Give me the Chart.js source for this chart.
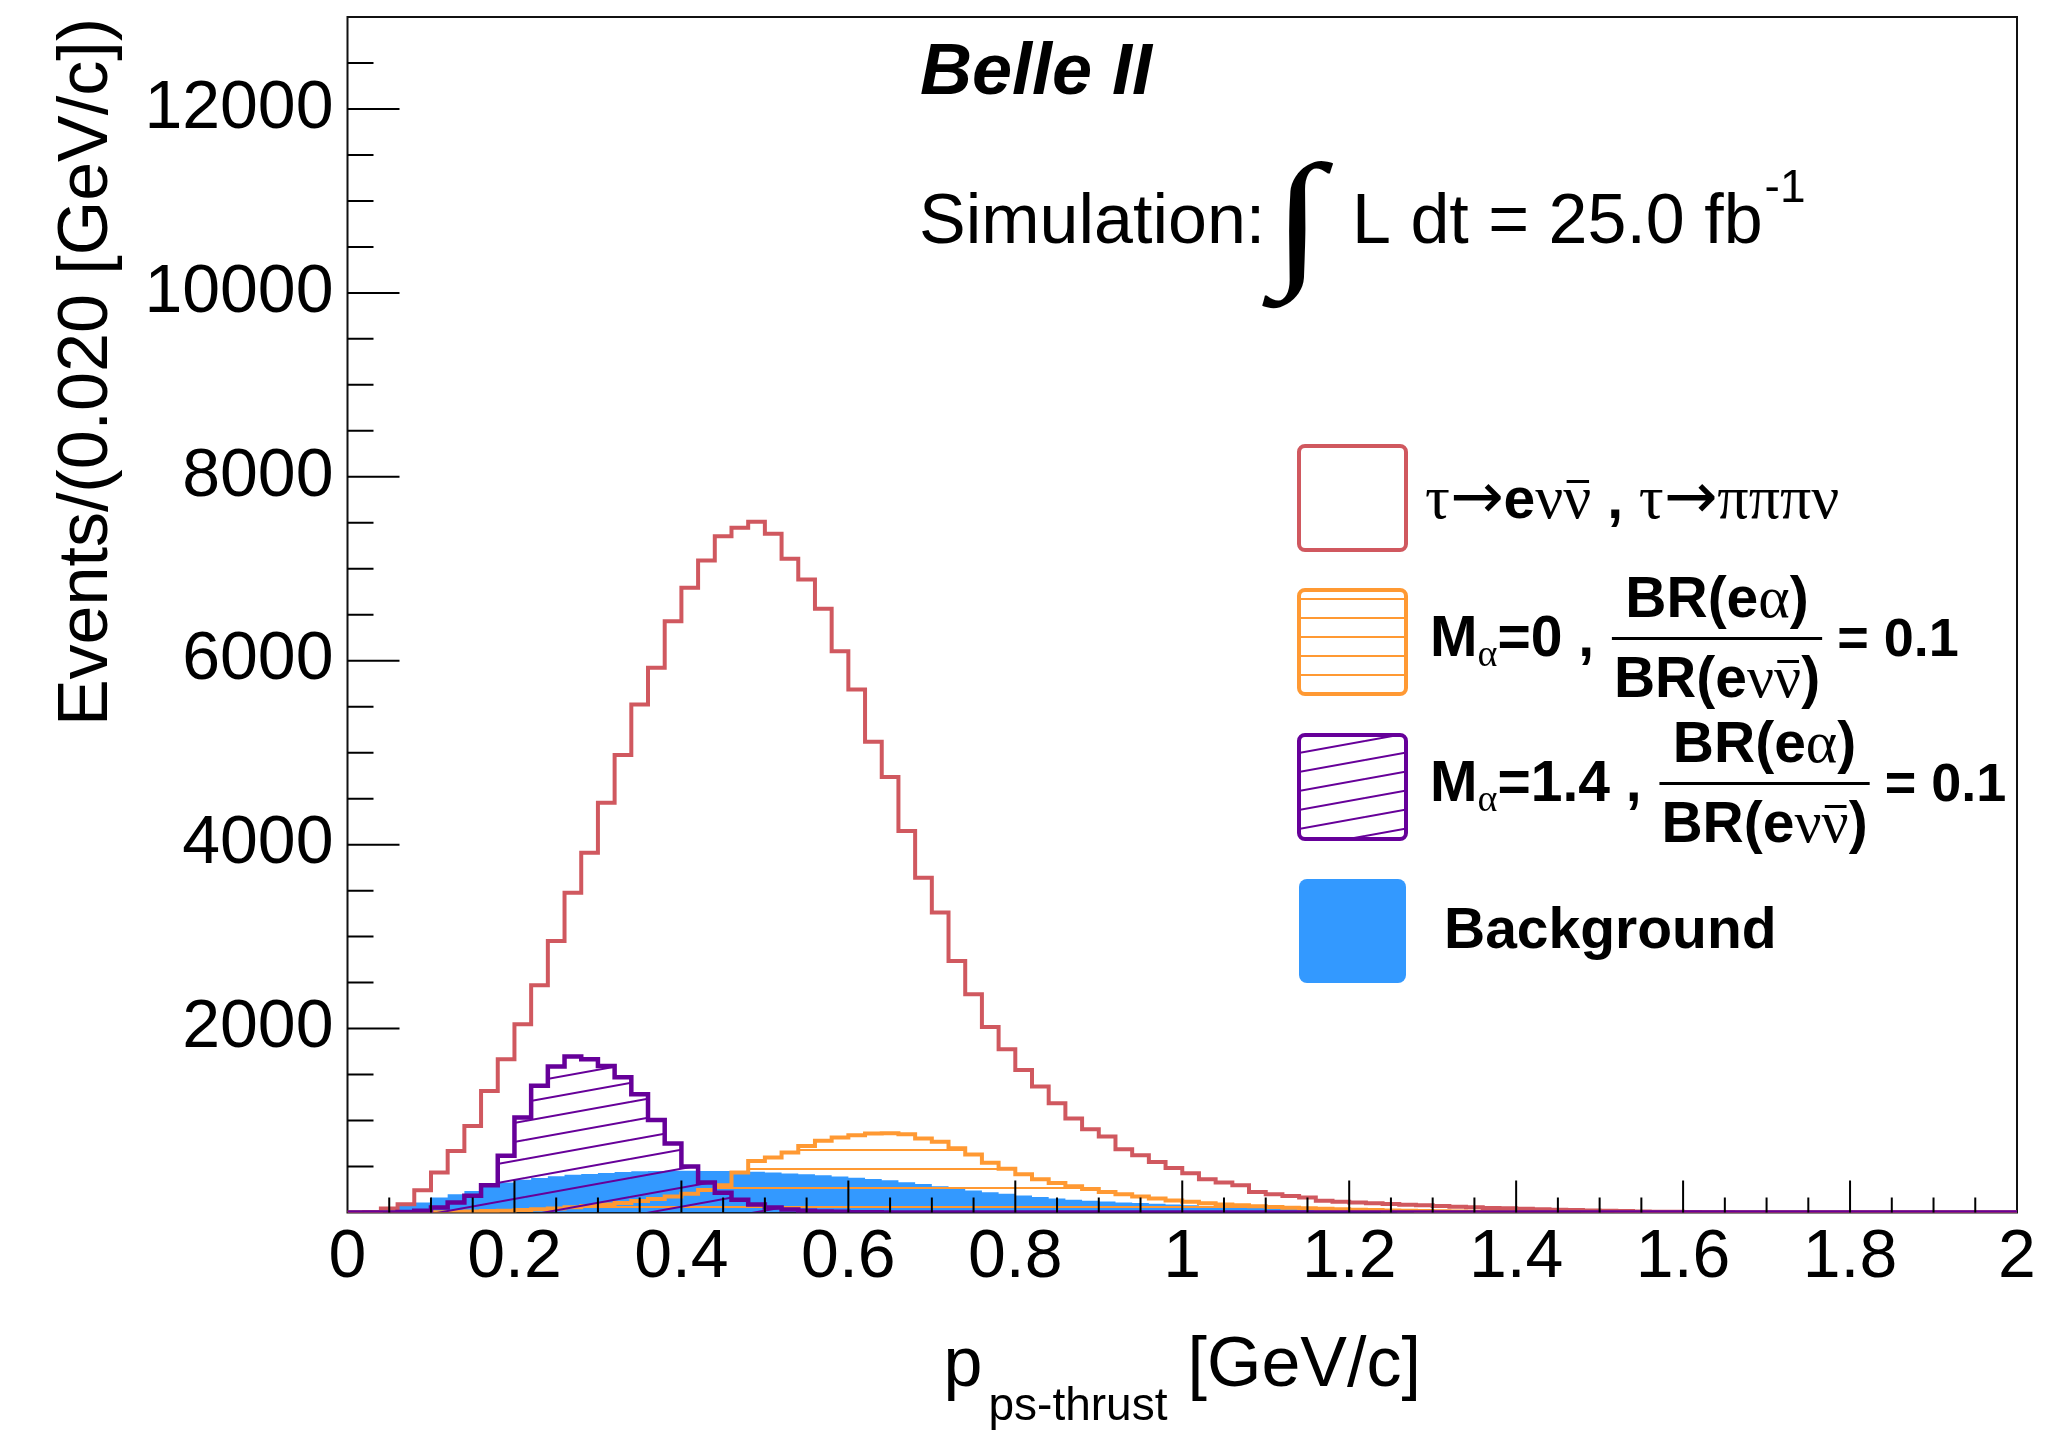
<!DOCTYPE html>
<html>
<head>
<meta charset="utf-8">
<title>p ps-thrust</title>
<script src="https://cdn.jsdelivr.net/npm/chart.js@4.4.1/dist/chart.umd.min.js"></script>
<style>
  html, body { margin: 0; padding: 0; background: #fff; }
  #wrap { width: 2054px; height: 1436px; }
</style>
</head>
<body>
<div id="wrap"><canvas id="hist" width="2054" height="1436"></canvas></div>
<script>
// bins of 0.020 GeV/c from 0 to 2 (100 bins), events per bin
const BIN_WIDTH = 0.02
const yTickValues = [2000, 4000, 6000, 8000, 10000, 12000]

// tau -> e nu nubar , tau -> pi pi pi nu
const sigSM = [
  0, 5, 43, 90, 242, 435, 670, 941, 1322, 1666,
  2047, 2470, 2952, 3478, 3913, 4457, 4975, 5525, 5924, 6430,
  6793, 7090, 7354, 7446, 7511, 7380, 7109, 6884, 6565, 6104,
  5688, 5120, 4737, 4148, 3641, 3261, 2735, 2373, 2018, 1775,
  1550, 1370, 1188, 1022, 905, 826, 688, 623, 550, 485,
  427, 362, 326, 297, 224, 199, 180, 163, 127, 116,
  109, 101, 92, 85, 78, 70, 63, 57, 50, 45,
  40, 35, 30, 26, 22, 18, 15, 12, 9, 7,
  5, 3, 2, 1, 0, 0, 0, 0, 0, 0,
  0, 0, 0, 0, 0, 0, 0, 0, 0, 0
]

// M_alpha = 0
const sigMa0 = [
  0, 0, 0, 0, 0, 2, 5, 10, 15, 20,
  26, 34, 44, 56, 70, 86, 104, 125, 148, 175,
  205, 245, 295, 435, 561, 598, 652, 724, 779, 815,
  840, 860, 862, 851, 804, 770, 700, 630, 540, 475,
  416, 362, 322, 285, 255, 224, 199, 174, 152, 130,
  116, 100, 88, 78, 68, 60, 52, 45, 40, 35,
  30, 26, 22, 19, 16, 13, 11, 9, 7, 6,
  5, 4, 3, 2, 2, 1, 0, 0, 0, 0,
  0, 0, 0, 0, 0, 0, 0, 0, 0, 0,
  0, 0, 0, 0, 0, 0, 0, 0, 0, 0
]

// M_alpha = 1.4
const sigMa14 = [
  0, 0, 0, 5, 20, 54, 109, 181, 295, 616,
  1033, 1377, 1587, 1696, 1667, 1594, 1470, 1286, 1005, 750,
  500, 326, 215, 140, 88, 54, 32, 20, 12, 7,
  4, 2, 1, 0, 0, 0, 0, 0, 0, 0,
  0, 0, 0, 0, 0, 0, 0, 0, 0, 0,
  0, 0, 0, 0, 0, 0, 0, 0, 0, 0,
  0, 0, 0, 0, 0, 0, 0, 0, 0, 0,
  0, 0, 0, 0, 0, 0, 0, 0, 0, 0,
  0, 0, 0, 0, 0, 0, 0, 0, 0, 0,
  0, 0, 0, 0, 0, 0, 0, 0, 0, 0
]

// background
const bkg = [
  0, 10, 30, 72, 109, 163, 199, 235, 290, 326,
  355, 375, 395, 410, 420, 430, 440, 448, 452, 455,
  454, 452, 450, 447, 442, 435, 425, 416, 405, 392,
  378, 365, 352, 330, 310, 285, 260, 240, 220, 203,
  185, 168, 153, 140, 129, 119, 110, 102, 95, 88,
  80, 72, 65, 58, 51, 44, 38, 32, 27, 22,
  18, 14, 11, 8, 6, 4, 3, 2, 1, 0,
  0, 0, 0, 0, 0, 0, 0, 0, 0, 0,
  0, 0, 0, 0, 0, 0, 0, 0, 0, 0,
  0, 0, 0, 0, 0, 0, 0, 0, 0, 0
]

const RED = '#d0585f'
const ORANGE = '#ff9933'
const PURPLE = '#660099'
const BLUE = '#3399ff'
const SANS = '"Liberation Sans", Arial, sans-serif'
const SERIF = '"Liberation Serif", "DejaVu Serif", serif'

// histogram -> points at lower bin edges, closed at x = 2
function steps (values) {
  const pts = values.map((v, i) => ({ x: +(i * BIN_WIDTH).toFixed(2), y: v }))
  pts.push({ x: 2, y: values[values.length - 1] })
  return pts
}

// ROOT-like hatch fills (size first: resizing a canvas resets its context)
function hatch (color, kind) {
  const c = document.createElement('canvas')
  if (kind === 'h') { c.width = 8; c.height = 19 } else { c.width = 105; c.height = 19 }
  const g = c.getContext('2d')
  g.strokeStyle = color
  g.lineWidth = 2
  g.beginPath()
  if (kind === 'h') {
    g.moveTo(0, 10); g.lineTo(8, 10)
  } else {
    for (const k of [-1, 0, 1]) {
      g.moveTo(0, 19 + k * 19); g.lineTo(105, k * 19)
    }
  }
  g.stroke()
  return g.createPattern(c, 'repeat')
}

const orangeFill = hatch(ORANGE, 'h')
const purpleFill = hatch(PURPLE, 'd')

const font = (size, weight = '', style = '', fam = SANS) => `${style} ${weight} ${size}px ${fam}`.trim()

// draw a row of text pieces, returns end x
function drawRuns (ctx, x, y, runs, measureOnly) {
  for (const r of runs) {
    ctx.font = r.f
    const w = ctx.measureText(r.t).width
    if (!measureOnly) {
      ctx.fillText(r.t, x, y + (r.dy || 0))
      if (r.bar) ctx.fillRect(x + w * 0.12, y + (r.dy || 0) - r.bar, w * 0.8, 3)
    }
    x += w + (r.sp || 0)
  }
  return x
}

function fraction (ctx, x, y, num, den) {
  const wN = drawRuns(ctx, 0, 0, num, true)
  const wD = drawRuns(ctx, 0, 0, den, true)
  const W = Math.max(wN, wD) + 4
  drawRuns(ctx, x + (W - wN) / 2, y - 39, num)
  drawRuns(ctx, x + (W - wD) / 2, y + 41, den)
  ctx.fillRect(x, y - 19, W, 3)
  return x + W
}

const framePlugin = {
  id: 'frame',
  beforeDatasetsDraw (chart) {
    const { ctx, chartArea: a } = chart
    ctx.save()
    ctx.strokeStyle = '#111'
    ctx.lineWidth = 2
    ctx.strokeRect(a.left, a.top, a.right - a.left, a.bottom - a.top)
    ctx.restore()
  },
  afterDatasetsDraw (chart) {
    // ticks point into the frame, like ROOT
    const { ctx, chartArea: a, scales: { x, y } } = chart
    ctx.save()
    ctx.strokeStyle = '#000'
    ctx.lineWidth = 2
    ctx.beginPath()
    for (let v = 500; v < 13000; v += 500) {
      const p = y.getPixelForValue(v)
      ctx.moveTo(a.left, p)
      ctx.lineTo(a.left + (v % 2000 === 0 ? 52 : 26), p)
    }
    for (let k = 1; k < 40; k++) {
      const p = x.getPixelForValue(k * 0.05)
      ctx.moveTo(p, a.bottom)
      ctx.lineTo(p, a.bottom - (k % 4 === 0 ? 32 : 15))
    }
    ctx.stroke()
    ctx.restore()
  }
}

const textPlugin = {
  id: 'texts',
  afterDraw (chart) {
    const ctx = chart.ctx
    ctx.save()
    ctx.fillStyle = '#000'
    ctx.textBaseline = 'alphabetic'
    ctx.textAlign = 'left'

    ctx.font = font(72, 'bold', 'italic')
    ctx.fillText('Belle II', 920, 94)

    ctx.font = font(70)
    ctx.fillText('Simulation:', 919, 243)
    ctx.save()
    ctx.font = font(150, 'bold', '', SERIF)
    ctx.translate(1272, 268)
    ctx.scale(1.25, 1)
    ctx.fillText('∫', 0, 0)
    ctx.restore()
    const xe = drawRuns(ctx, 1352, 243, [{ t: 'L dt = 25.0 fb', f: font(70) }])
    drawRuns(ctx, xe + 2, 202, [{ t: '-1', f: font(46) }])

    // axis titles
    const xt = [{ t: 'p', f: font(70) }]
    const sub = [{ t: 'ps-thrust', f: font(46) }]
    const unit = [{ t: '[GeV/c]', f: font(70) }]
    const total = drawRuns(ctx, 0, 0, xt, true) + 6 + drawRuns(ctx, 0, 0, sub, true) + 20 + drawRuns(ctx, 0, 0, unit, true)
    let x0 = (chart.chartArea.left + chart.chartArea.right) / 2 - total / 2
    x0 = drawRuns(ctx, x0, 1386, xt) + 6
    x0 = drawRuns(ctx, x0, 1420, sub) + 20
    drawRuns(ctx, x0, 1386, unit)

    ctx.save()
    ctx.translate(107, 18)
    ctx.rotate(-Math.PI / 2)
    ctx.textAlign = 'right'
    ctx.font = font(70)
    ctx.fillText('Events/(0.020 [GeV/c])', 0, 0)
    ctx.restore()

    // legend
    const LX = 1299
    const LW = 107
    const LH = 104
    const rows = [446, 590, 735, 879]
    ctx.lineWidth = 4
    ctx.beginPath(); ctx.roundRect(LX, rows[0], LW, LH, 6)
    ctx.fillStyle = '#fff'; ctx.fill(); ctx.strokeStyle = RED; ctx.stroke()
    ctx.beginPath(); ctx.roundRect(LX, rows[1], LW, LH, 6)
    ctx.fillStyle = orangeFill; ctx.fill(); ctx.strokeStyle = ORANGE; ctx.stroke()
    ctx.beginPath(); ctx.roundRect(LX, rows[2], LW, LH, 6)
    ctx.fillStyle = purpleFill; ctx.fill(); ctx.strokeStyle = PURPLE; ctx.stroke()
    ctx.beginPath(); ctx.roundRect(LX, rows[3], LW, LH, 8)
    ctx.fillStyle = BLUE; ctx.fill()

    ctx.fillStyle = '#000'
    const S = 57
    const b = (s) => font(s, 'bold')
    const g = (s) => font(s, '', '', SERIF)
    const arrow = font(64, '', '', '"DejaVu Sans", sans-serif')
    drawRuns(ctx, 1425, 518, [
      { t: 'τ', f: g(62) }, { t: '→', f: arrow }, { t: 'e', f: b(S) },
      { t: 'ν', f: g(62) }, { t: 'ν', f: g(62), bar: 38 }, { t: ' , ', f: b(S) },
      { t: 'τ', f: g(62) }, { t: '→', f: arrow }, { t: 'πππν', f: g(62) }
    ])
    const num = [{ t: 'BR(e', f: b(S) }, { t: 'α', f: g(60) }, { t: ')', f: b(S) }]
    const den = [{ t: 'BR(e', f: b(S) }, { t: 'ν', f: g(60) }, { t: 'ν', f: g(60), bar: 37 }, { t: ')', f: b(S) }]
    let xr = drawRuns(ctx, 1430, 656, [{ t: 'M', f: b(S) }, { t: 'α', f: g(38), dy: 10 }, { t: '=0 , ', f: b(S) }])
    xr = fraction(ctx, xr + 2, 656, num, den)
    drawRuns(ctx, xr + 15, 656, [{ t: '= 0.1', f: b(54) }])
    xr = drawRuns(ctx, 1430, 801, [{ t: 'M', f: b(S) }, { t: 'α', f: g(38), dy: 10 }, { t: '=1.4 , ', f: b(S) }])
    xr = fraction(ctx, xr + 2, 801, num, den)
    drawRuns(ctx, xr + 15, 801, [{ t: '= 0.1', f: b(54) }])
    drawRuns(ctx, 1444, 948, [{ t: 'Background', f: b(S) }])
    ctx.restore()
  }
}

const chart = new Chart(document.getElementById('hist'), {
  type: 'line',
  data: {
    datasets: [
      { label: 'M_alpha=1.4', data: steps(sigMa14), stepped: true, borderColor: PURPLE, borderWidth: 4.5, backgroundColor: purpleFill, fill: 'origin', pointRadius: 0, order: 0 },
      { label: 'tau->evv, tau->pipipiv', data: steps(sigSM), stepped: true, borderColor: RED, borderWidth: 4, fill: false, pointRadius: 0, order: 1 },
      { label: 'M_alpha=0', data: steps(sigMa0), stepped: true, borderColor: ORANGE, borderWidth: 4, backgroundColor: orangeFill, fill: 'origin', pointRadius: 0, order: 2 },
      { label: 'Background', data: steps(bkg), stepped: true, borderColor: BLUE, borderWidth: 0, backgroundColor: BLUE, fill: 'origin', pointRadius: 0, order: 3 }
    ]
  },
  options: {
    responsive: false,
    devicePixelRatio: 1,
    animation: false,
    events: [],
    layout: { padding: { left: 47.5, right: 37, top: 17, bottom: 0 }, autoPadding: false },
    plugins: { legend: { display: false }, tooltip: { enabled: false } },
    scales: {
      x: {
        type: 'linear',
        min: 0,
        max: 2,
        grid: { display: false, drawTicks: false },
        border: { display: false },
        ticks: {
          stepSize: 0.2,
          autoSkip: false,
          maxRotation: 0,
          padding: 5,
          color: '#000',
          font: { family: SANS, size: 68 },
          callback: (v) => String(+v.toFixed(2))
        },
        afterFit: (s) => { s.height = 223.5; s.paddingLeft = 0; s.paddingRight = 0 }
      },
      y: {
        type: 'linear',
        min: 0,
        max: 13000,
        grid: { display: false, drawTicks: false },
        border: { display: false },
        afterBuildTicks: (s) => { s.ticks = yTickValues.map((v) => ({ value: v })) },
        ticks: {
          autoSkip: false,
          padding: 14,
          color: '#000',
          font: { family: SANS, size: 68 },
          callback: (v) => String(v)
        },
        afterFit: (s) => { s.width = 300; s.paddingTop = 0; s.paddingBottom = 0 }
      }
    }
  },
  plugins: [framePlugin, textPlugin]
})
</script>
</body>
</html>
